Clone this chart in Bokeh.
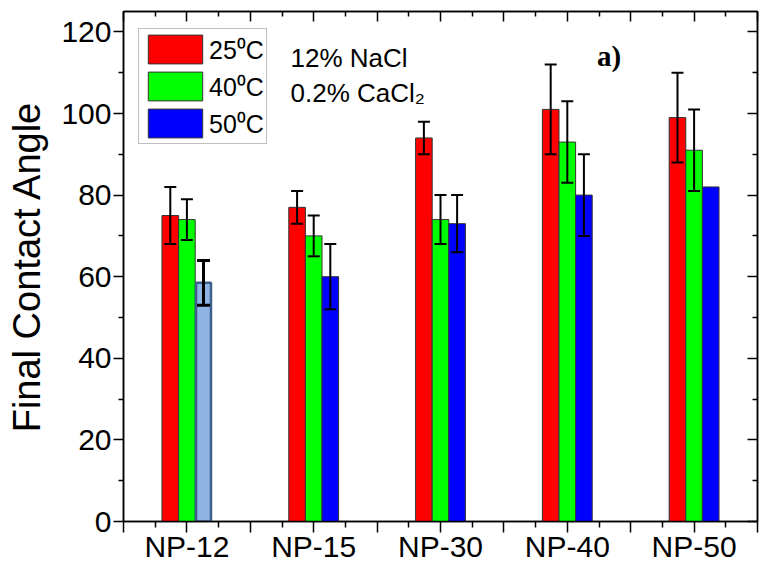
from bokeh.plotting import figure
from bokeh.models import (ColumnDataSource, FixedTicker, LinearAxis, Range1d,
                          Legend, LegendItem, Whisker, TeeHead, Label)
from bokeh.embed import file_html
from bokeh.resources import INLINE

# ---------------- data ----------------
categories = ["NP-12", "NP-15", "NP-30", "NP-40", "NP-50"]
temp_labels = ["25\u2070C", "40\u2070C", "50\u2070C"]
angle_25 = [75, 77, 94, 101, 99]
angle_40 = [74, 70, 74, 93, 91]
angle_50 = [58.5, 60, 73, 80, 82]
err_25 = [7, 4, 4, 11, 11]
err_40 = [5, 5, 6, 10, 10]
err_50 = [5.5, 8, 7, 10, 0]
y_ticks = [0, 20, 40, 60, 80, 100, 120]
y_minor = [10, 30, 50, 70, 90, 110]
note_lines = ["12% NaCl", "0.2% CaCl\u2082"]
panel_tag = "a)"

# ---------------- styling ----------------
FONT = "Liberation Sans"
BAR_W = 0.131
colors = ["#FF0000", "#00FF00", "#0000FF"]
offsets = [-BAR_W, 0.0, BAR_W]

p = figure(width=760, height=567, output_backend="svg", toolbar_location=None,
           x_range=Range1d(0.5, 5.5), y_range=Range1d(0, 125),
           min_border_left=123, min_border_right=3, min_border_top=11,
           min_border_bottom=46)
p.xgrid.visible = False
p.ygrid.visible = False
p.outline_line_color = "black"
p.outline_line_width = 1.5
p.background_fill_color = "white"
p.border_fill_color = "white"

x_major = [0.5 + 0.5 * i for i in range(11)]
x_minor = [0.75 + 0.5 * i for i in range(10)]
xt = FixedTicker(ticks=x_major, minor_ticks=x_minor)
yt = FixedTicker(ticks=y_ticks, minor_ticks=y_minor)


def style_lines(a):
    a.axis_line_width = 1.5
    a.major_tick_line_width = 1.5
    a.minor_tick_line_width = 1.5
    a.axis_line_color = "black"
    a.major_tick_line_color = "black"
    a.minor_tick_line_color = "black"


def hide_labels(a):
    a.major_label_text_color = None
    a.major_label_text_font_size = "1px"
    a.major_label_standoff = 0


# bottom axis: tick marks only
xa = p.xaxis[0]
xa.ticker = xt
hide_labels(xa)
xa.major_tick_out = 11
xa.major_tick_in = 0
xa.minor_tick_out = 6
xa.minor_tick_in = 0
style_lines(xa)

# bottom axis: category labels only
xl = LinearAxis(ticker=FixedTicker(ticks=[float(i + 1) for i in range(len(categories))],
                                   minor_ticks=[]),
                major_label_overrides={float(i + 1): c for i, c in enumerate(categories)},
                axis_line_color=None, major_tick_line_color=None, minor_tick_line_color=None,
                major_tick_out=0, major_tick_in=0, minor_tick_out=0, minor_tick_in=0,
                major_label_standoff=-3, major_label_text_font=FONT,
                major_label_text_font_size="30px", major_label_text_color="black")
p.add_layout(xl, "below")

# left axis
ya = p.yaxis[0]
ya.ticker = yt
ya.axis_label = "Final Contact Angle"
ya.axis_label_text_font = FONT
ya.axis_label_text_font_size = "38px"
ya.axis_label_text_font_style = "normal"
ya.axis_label_text_color = "black"
ya.axis_label_standoff = 10
ya.major_label_text_font = FONT
ya.major_label_text_font_size = "30px"
ya.major_label_text_color = "black"
ya.major_label_standoff = 2
ya.major_tick_out = 10
ya.major_tick_in = 0
ya.minor_tick_out = 5
ya.minor_tick_in = 0
style_lines(ya)

# mirror axes (ticks inward, no labels)
top = LinearAxis(ticker=xt, major_tick_in=10, major_tick_out=0, minor_tick_in=5, minor_tick_out=0)
right = LinearAxis(ticker=yt, major_tick_in=10, major_tick_out=0, minor_tick_in=5, minor_tick_out=0)
for a in (top, right):
    hide_labels(a)
    style_lines(a)
p.add_layout(top, "above")
p.add_layout(right, "right")

# ---------------- bars ----------------
series = [angle_25, angle_40, angle_50]
errors = [err_25, err_40, err_50]
legend_renderers = []
for k, (vals, errs) in enumerate(zip(series, errors)):
    xs = [i + 1 + offsets[k] for i in range(len(categories))]
    if k == 2:
        # first blue bar drawn in a lighter style
        idx_main = list(range(1, len(categories)))
        src = ColumnDataSource(dict(x=[xs[i] for i in idx_main], top=[vals[i] for i in idx_main]))
        r = p.vbar(x="x", top="top", width=BAR_W, source=src, fill_color=colors[k],
                   line_color="#333333", line_width=1)
        src_l = ColumnDataSource(dict(x=[xs[0]], top=[vals[0]]))
        p.vbar(x="x", top="top", width=BAR_W * 0.9, source=src_l, fill_color="#8DB4E2",
               line_color="#3D5F8C", line_width=2.5)
    else:
        src = ColumnDataSource(dict(x=xs, top=vals))
        r = p.vbar(x="x", top="top", width=BAR_W, source=src, fill_color=colors[k],
                   line_color="#333333", line_width=1)
    legend_renderers.append(r)

    # error bars
    keep = [i for i in range(len(categories)) if errs[i] > 0]
    normal = [i for i in keep if not (k == 2 and i == 0)]
    esrc = ColumnDataSource(dict(x=[xs[i] for i in normal],
                                 upper=[vals[i] + errs[i] for i in normal],
                                 lower=[vals[i] - errs[i] for i in normal]))
    w = Whisker(base="x", upper="upper", lower="lower", source=esrc, dimension="height",
                line_color="black", line_width=2, level="annotation",
                upper_head=TeeHead(size=12, line_width=2, line_color="black"),
                lower_head=TeeHead(size=12, line_width=2, line_color="black"))
    p.add_layout(w)
    if k == 2 and errs[0] > 0:
        esrc2 = ColumnDataSource(dict(x=[xs[0]], upper=[vals[0] + errs[0]],
                                      lower=[vals[0] - errs[0]]))
        w2 = Whisker(base="x", upper="upper", lower="lower", source=esrc2, dimension="height",
                     line_color="black", line_width=3, level="annotation",
                     upper_head=TeeHead(size=13, line_width=3, line_color="black"),
                     lower_head=TeeHead(size=13, line_width=3, line_color="black"))
        p.add_layout(w2)

# ---------------- legend ----------------
legend = Legend(items=[LegendItem(label=temp_labels[k], renderers=[legend_renderers[k]])
                       for k in range(3)],
                location=(15, 377), margin=0, padding=2, spacing=1,
                glyph_width=68, glyph_height=36, label_height=36, label_standoff=0,
                label_text_font=FONT, label_text_font_size="25px", label_text_color="black",
                border_line_color="#7F7F7F", border_line_width=1.5,
                background_fill_color="white", background_fill_alpha=1.0)
p.add_layout(legend, "center")

# ---------------- annotations ----------------
p.add_layout(Label(x=1.817, y=113.6, text=note_lines[0], text_font=FONT,
                   text_font_size="26px", text_color="black", text_baseline="alphabetic"))
p.add_layout(Label(x=1.817, y=105.0, text=note_lines[1], text_font=FONT,
                   text_font_size="26px", text_color="black", text_baseline="alphabetic"))
p.add_layout(Label(x=4.235, y=114.0, text=panel_tag, text_font="Liberation Serif",
                   text_font_size="29px", text_font_style="bold", text_color="black",
                   text_baseline="alphabetic"))

open("out.html", "w").write(file_html(p, INLINE))
